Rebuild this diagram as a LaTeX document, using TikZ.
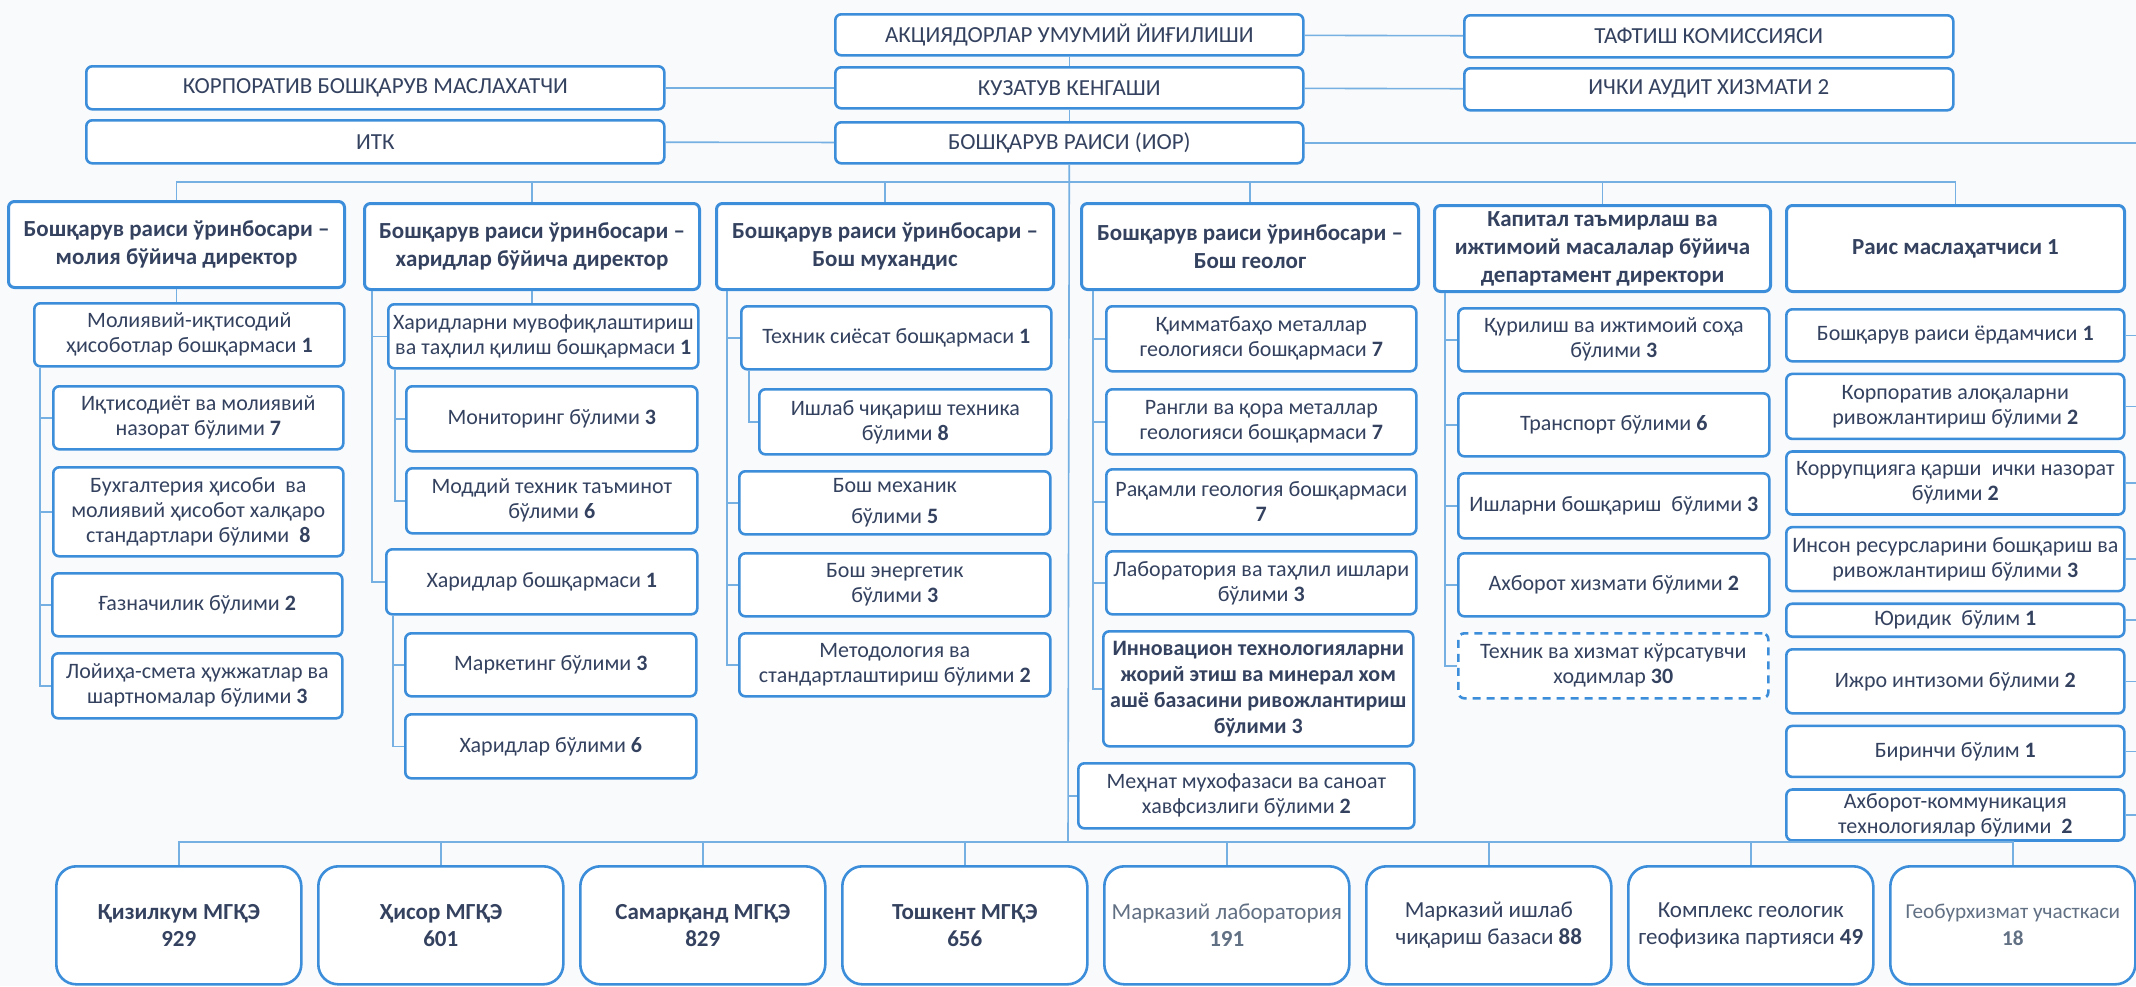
\documentclass[tikz,border=0pt]{standalone}
\usepackage{fontspec}
\setmainfont{Carlito}
\usetikzlibrary{positioning}
\definecolor{boxblue}{RGB}{60,142,218}
\definecolor{linkblue}{RGB}{118,176,226}
\definecolor{inkblue}{RGB}{52,66,96}
\definecolor{greyink}{RGB}{98,112,132}
\definecolor{paper}{RGB}{248,250,252}
\tikzset{
node distance=5pt,
sz/.style 2 args={minimum width=#1*0.5pt,minimum height=#2*0.5pt},
box/.style={%
    rectangle,
    anchor=north west,
    rounded corners=3pt,
    draw=boxblue,
    line width=1.3pt,
    fill=white,
    align=center,
    inner sep=1pt,
    text=inkblue,
    % Font
    font=\fontsize{11}{12.5}\selectfont
},
topbox/.style={box, sz={468}{41}, font=\fontsize{11.5}{13}\selectfont},
headbox/.style={box, line width=1.5pt, font=\fontsize{11.5}{14}\selectfont\bfseries},
subbox/.style={box},
dashbox/.style={box, dash pattern=on 4pt off 3pt},
basebox/.style={box, sz={245}{118}, rounded corners=10pt, font=\fontsize{11.5}{13.5}\selectfont},
link/.style={draw=linkblue, line width=0.8pt},
}

\begin{document}
\begin{tikzpicture}[x=0.5pt,y=-0.5pt]
	\path[use as bounding box, fill=paper] (0,0) rectangle (2136,986);
	\coordinate (redge) at (2136,0);
	\coordinate (bus1) at (1068,182);
	\coordinate (bus2) at (1068,842);

	\node[topbox] (gm) at (834,13) {АКЦИЯДОРЛАР УМУМИЙ ЙИҒИЛИШИ};
	\node[topbox] (board) at (834,66) {КУЗАТУВ КЕНГАШИ};
	\node[topbox] (ceo) at (834,121) {БОШҚАРУВ РАИСИ (ИОР)};
	\node[topbox, sz={489}{42}] (revcom) at (1463,14) {ТАФТИШ КОМИССИЯСИ};
	\node[topbox, sz={489}{42}] (audit) at (1463,67) {ИЧКИ АУДИТ ХИЗМАТИ 2};
	\node[topbox, sz={578}{43}] (corp) at (85,65) {КОРПОРАТИВ БОШҚАРУВ МАСЛАХАТЧИ};
	\node[topbox, sz={578}{43}] (itk) at (85,119) {ИТК};

	\node[headbox, sz={336}{86}] (h1) at (7,200) {Бошқарув раиси ўринбосари –\\молия бўйича директор};
	\node[headbox, sz={335}{86}] (h2) at (363,202) {Бошқарув раиси ўринбосари –\\харидлар бўйича директор};
	\node[headbox, sz={337}{86}] (h3) at (715,202) {Бошқарув раиси ўринбосари –\\Бош мухандис};
	\node[headbox, sz={337}{86}] (h4) at (1080,202) {Бошқарув раиси ўринбосари –\\Бош геолог};
	\node[headbox, sz={336}{86}] (h5) at (1433,204) {Капитал таъмирлаш ва\\ижтимоий масалалар бўйича\\департамент директори};
	\node[headbox, sz={338}{86}] (h6) at (1785,204) {Раис маслаҳатчиси 1};

	\node[subbox, sz={310}{63}] (f1) at (33,302) {Молиявий-иқтисодий\\ҳисоботлар бошқармаси \textbf{1}};
	\node[subbox, sz={290}{63}] (f2) at (52,385) {Иқтисодиёт ва молиявий\\назорат бўлими \textbf{7}};
	\node[subbox, sz={290}{89}] (f3) at (52,466) {Бухгалтерия ҳисоби~ ва\\молиявий ҳисобот халқаро\\стандартлари бўлими~ \textbf{8}};
	\node[subbox, sz={290}{63}] (f4) at (51,572) {Ғазначилик бўлими \textbf{2}};
	\node[subbox, sz={290}{65}] (f5) at (51,652) {Лойиҳа-смета ҳужжатлар ва\\шартномалар бўлими \textbf{3}};

	\node[subbox, sz={310}{64}] (p1) at (387,303) {Харидларни мувофиқлаштириш\\ва таҳлил қилиш бошқармаси \textbf{1}};
	\node[subbox, sz={291}{65}] (p2) at (405,385) {Мониторинг бўлими \textbf{3}};
	\node[subbox, sz={291}{65}] (p3) at (405,467) {Моддий техник таъминот\\бўлими \textbf{6}};
	\node[subbox, sz={311}{65}] (p4) at (385,548) {Харидлар бошқармаси \textbf{1}};
	\node[subbox, sz={291}{63}] (p5) at (404,632) {Маркетинг бўлими \textbf{3}};
	\node[subbox, sz={291}{64}] (p6) at (404,713) {Харидлар бўлими \textbf{6}};

	\node[subbox, sz={310}{63}] (e1) at (740,305) {Техник сиёсат бошқармаси \textbf{1}};
	\node[subbox, sz={292}{65}] (e2) at (758,388) {Ишлаб чиқариш техника\\бўлими \textbf{8}};
	\node[subbox, sz={311}{63}] (e3) at (738,470) {Бош механик\\[3pt]бўлими \textbf{5}};
	\node[subbox, sz={311}{63}] (e4) at (738,552) {Бош энергетик\\бўлими \textbf{3}};
	\node[subbox, sz={311}{63}] (e5) at (738,632) {Методология ва\\стандартлаштириш бўлими \textbf{2}};

	\node[subbox, sz={310}{65}] (g1) at (1105,305) {Қимматбаҳо металлар\\геологияси бошқармаси \textbf{7}};
	\node[subbox, sz={310}{65}] (g2) at (1105,388) {Рангли ва қора металлар\\геологияси бошқармаси \textbf{7}};
	\node[subbox, sz={310}{65}] (g3) at (1105,468) {Рақамли геология бошқармаси\\\textbf{7}};
	\node[subbox, sz={310}{63}] (g4) at (1105,550) {Лаборатория ва таҳлил ишлари\\бўлими \textbf{3}};
	\node[subbox, sz={310}{115}, font=\fontsize{11}{13}\selectfont\bfseries] (g5) at (1102,630) {Инновацион технологияларни\\жорий этиш ва минерал хом\\ашё базасини ривожлантириш\\бўлими 3};
	\node[subbox, sz={336}{65}] (safety) at (1077,762) {Меҳнат мухофазаси ва саноат\\хавфсизлиги бўлими \textbf{2}};

	\node[subbox, sz={311}{63}] (k1) at (1457,307) {Қурилиш ва ижтимоий соҳа\\бўлими \textbf{3}};
	\node[subbox, sz={311}{63}] (k2) at (1457,392) {Транспорт бўлими \textbf{6}};
	\node[subbox, sz={311}{65}] (k3) at (1457,472) {Ишларни бошқариш~ бўлими \textbf{3}};
	\node[subbox, sz={311}{63}] (k4) at (1457,552) {Ахборот хизмати бўлими \textbf{2}};
	\node[dashbox, sz={310}{65}] (k5) at (1457,632) {Техник ва хизмат кўрсатувчи\\ходимлар \textbf{30}};

	\node[subbox, sz={338}{52}] (a1) at (1785,308) {Бошқарув раиси ёрдамчиси \textbf{1}};
	\node[subbox, sz={338}{65}, below=of a1] (a2) {Корпоратив алоқаларни\\ривожлантириш бўлими \textbf{2}};
	\node[subbox, sz={338}{63}, below=of a2] (a3) {Коррупцияга қарши~ ички назорат\\бўлими \textbf{2}};
	\node[subbox, sz={338}{64}, below=of a3] (a4) {Инсон ресурсларини бошқариш ва\\ривожлантириш бўлими \textbf{3}};
	\node[subbox, sz={338}{33}, below=of a4] (a5) {Юридик~ бўлим \textbf{1}};
	\node[subbox, sz={338}{64}, below=of a5] (a6) {Ижро интизоми бўлими \textbf{2}};
	\node[subbox, sz={338}{51}, below=of a6] (a7) {Биринчи бўлим \textbf{1}};
	\node[subbox, sz={338}{51}, below=of a7] (a8) {Ахборот-коммуникация\\технологиялар бўлими~ \textbf{2}};

	\node[basebox, font=\fontsize{11.5}{13.5}\selectfont\bfseries] (x1) at (55,865) {Қизилкум МГҚЭ\\929};
	\node[basebox, font=\fontsize{11.5}{13.5}\selectfont\bfseries, right=7.2pt of x1] (x2) {Ҳисор МГҚЭ\\601};
	\node[basebox, font=\fontsize{11.5}{13.5}\selectfont\bfseries, right=7.2pt of x2] (x3) {Самарқанд МГҚЭ\\829};
	\node[basebox, font=\fontsize{11.5}{13.5}\selectfont\bfseries, right=7.2pt of x3] (x4) {Тошкент МГҚЭ\\656};
	\node[basebox, text=greyink, right=7.2pt of x4] (x5) {Марказий лаборатория\\\textbf{191}};
	\node[basebox, right=7.2pt of x5] (x6) {Марказий ишлаб\\чиқариш базаси \textbf{88}};
	\node[basebox, right=7.2pt of x6] (x7) {Комплекс геологик\\геофизика партияси \textbf{49}};
	\node[basebox, text=greyink, font=\fontsize{10.6}{13.5}\selectfont, right=7.2pt of x7] (x8) {Геобурхизмат участкаси\\\textbf{18}};

	\draw[link] (gm) -- (revcom);
	\draw[link] (corp) -- (board);
	\draw[link] (board) -- (audit);
	\draw[link] (itk) -- (ceo);
	\draw[link] (gm) -- (board);
	\draw[link] (board) -- (ceo);
	\draw[link] (ceo.east) -- (ceo.east -| redge);
	\draw[link] (ceo) -- (bus2);

	\draw[link] (h1.north) |- (bus1) -| (h6.north);
	\foreach \h in {h2,h3,h4,h5}
		\draw[link] (\h.north) -- (\h.north |- bus1);

	\draw[link] (h1.south) -- (h1.south |- f1.north);
	\foreach \n in {f2,f3,f4,f5}
		\draw[link] ([xshift=3.5pt]f1.south west) |- (\n.west);

	\draw[link] (h2.south) -- (h2.south |- p1.north);
	\foreach \n in {p1,p4}
		\draw[link] ([xshift=4.5pt]h2.south west) |- (\n.west);
	\foreach \n in {p2,p3}
		\draw[link] ([xshift=4pt]p1.south west) |- (\n.west);
	\foreach \n in {p5,p6}
		\draw[link] ([xshift=4pt]p4.south west) |- (\n.west);

	\foreach \n in {e1,e3,e4,e5}
		\draw[link] ([xshift=6pt]h3.south west) |- (\n.west);
	\draw[link] ([xshift=4.5pt]e1.south west) |- (e2.west);

	\foreach \n in {g1,g2,g3,g4,g5}
		\draw[link] ([xshift=6.5pt]h4.south west) |- (\n.west);
	\draw[link] (safety.west) -- (safety.west -| bus2);

	\foreach \n in {k1,k2,k3,k4,k5}
		\draw[link] ([xshift=6pt]h5.south west) |- (\n.west);

	\foreach \n in {a1,a2,a3,a4,a5,a6,a7,a8}
		\draw[link] (\n.east) -- (\n.east -| redge);

	\draw[link] (x1.north) |- (bus2) -| (x8.north);
	\foreach \n in {x2,x3,x4,x5,x6,x7}
		\draw[link] (\n.north) -- (\n.north |- bus2);
\end{tikzpicture}
\end{document}
